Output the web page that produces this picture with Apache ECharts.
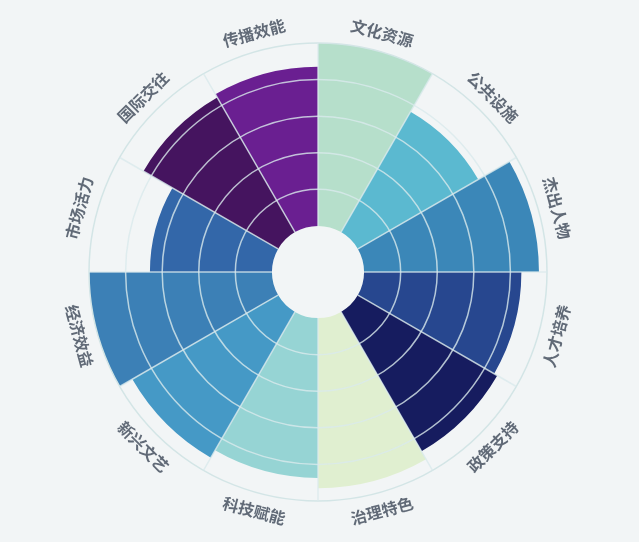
<!DOCTYPE html>
<html>
<head>
<meta charset="utf-8">
<script src="https://cdn.jsdelivr.net/npm/echarts@6/dist/echarts.min.js"></script>
<style>
html,body{margin:0;padding:0;background:#f2f5f6;}
#main{width:639px;height:542px;}
</style>
</head>
<body>
<div id="main"></div>
<script>
const categories = ['文化资源','公共设施','杰出人物','人才培养','政策支持','治理特色','科技赋能','新兴文艺','经济效益','市场活力','国际交往','传播效能'];
const values = [100, 76, 95.6, 86, 88, 93, 87.4, 92, 100, 66.7, 85, 87];
const colors = ['#b6dfcb','#5bb9d0','#3b87b8','#27478f','#161c5f','#e0efd0','#96d4d4','#4599c6','#3c80b6','#3367a9','#45145f','#6a1f91'];
const radiusMin = 0, radiusMax = 100, radiusInterval = 20;

const labelR = 110;
const n = categories.length;
const labelData = categories.map((c, i) => {
  const a = (i + 0.5) * 360 / n;
  let rot = -a;
  if (a > 90 && a < 270) rot += 180;
  return { value: [labelR, c], label: { rotate: rot } };
});

const gridColor = 'rgba(218,234,236,0.8)';
const outerColor = '#d3e5e6';
const chart = echarts.init(document.getElementById('main'), null, {renderer: 'canvas'});
chart.setOption({
  backgroundColor: '#f2f5f6',
  animation: false,
  polar: { center: [318, 272], radius: ['17%', '84.5%'] },
  angleAxis: {
    type: 'category',
    data: categories,
    startAngle: 90,
    clockwise: true,
    z: 5,
    axisLine: { show: false },
    axisTick: { show: false },
    axisLabel: { show: false },
    splitLine: { show: true, lineStyle: { color: gridColor, width: 1.5 } }
  },
  radiusAxis: {
    type: 'value',
    min: radiusMin, max: radiusMax, interval: radiusInterval,
    z: 5,
    axisLine: { show: false },
    axisTick: { show: false },
    axisLabel: { show: false },
    splitLine: { show: true, lineStyle: { color: ['rgba(0,0,0,0)', gridColor, gridColor, gridColor, gridColor, outerColor], width: 1.5 } }
  },
  series: [
    {
      type: 'bar',
      coordinateSystem: 'polar',
      barCategoryGap: '0%',
      data: values.map((v, i) => ({ value: v, itemStyle: { color: colors[i] } })),
      z: 2
    },
    {
      type: 'scatter',
      coordinateSystem: 'polar',
      symbolSize: 0,
      clip: false,
      silent: true,
      z: 6,
      data: labelData,
      label: {
        show: true,
        position: 'inside',
        formatter: p => p.value[1],
        fontFamily: 'Noto Sans CJK SC',
        fontSize: 16,
        fontWeight: 'bold',
        color: '#3c4757'
      }
    }
  ]
});
</script>
</body>
</html>
